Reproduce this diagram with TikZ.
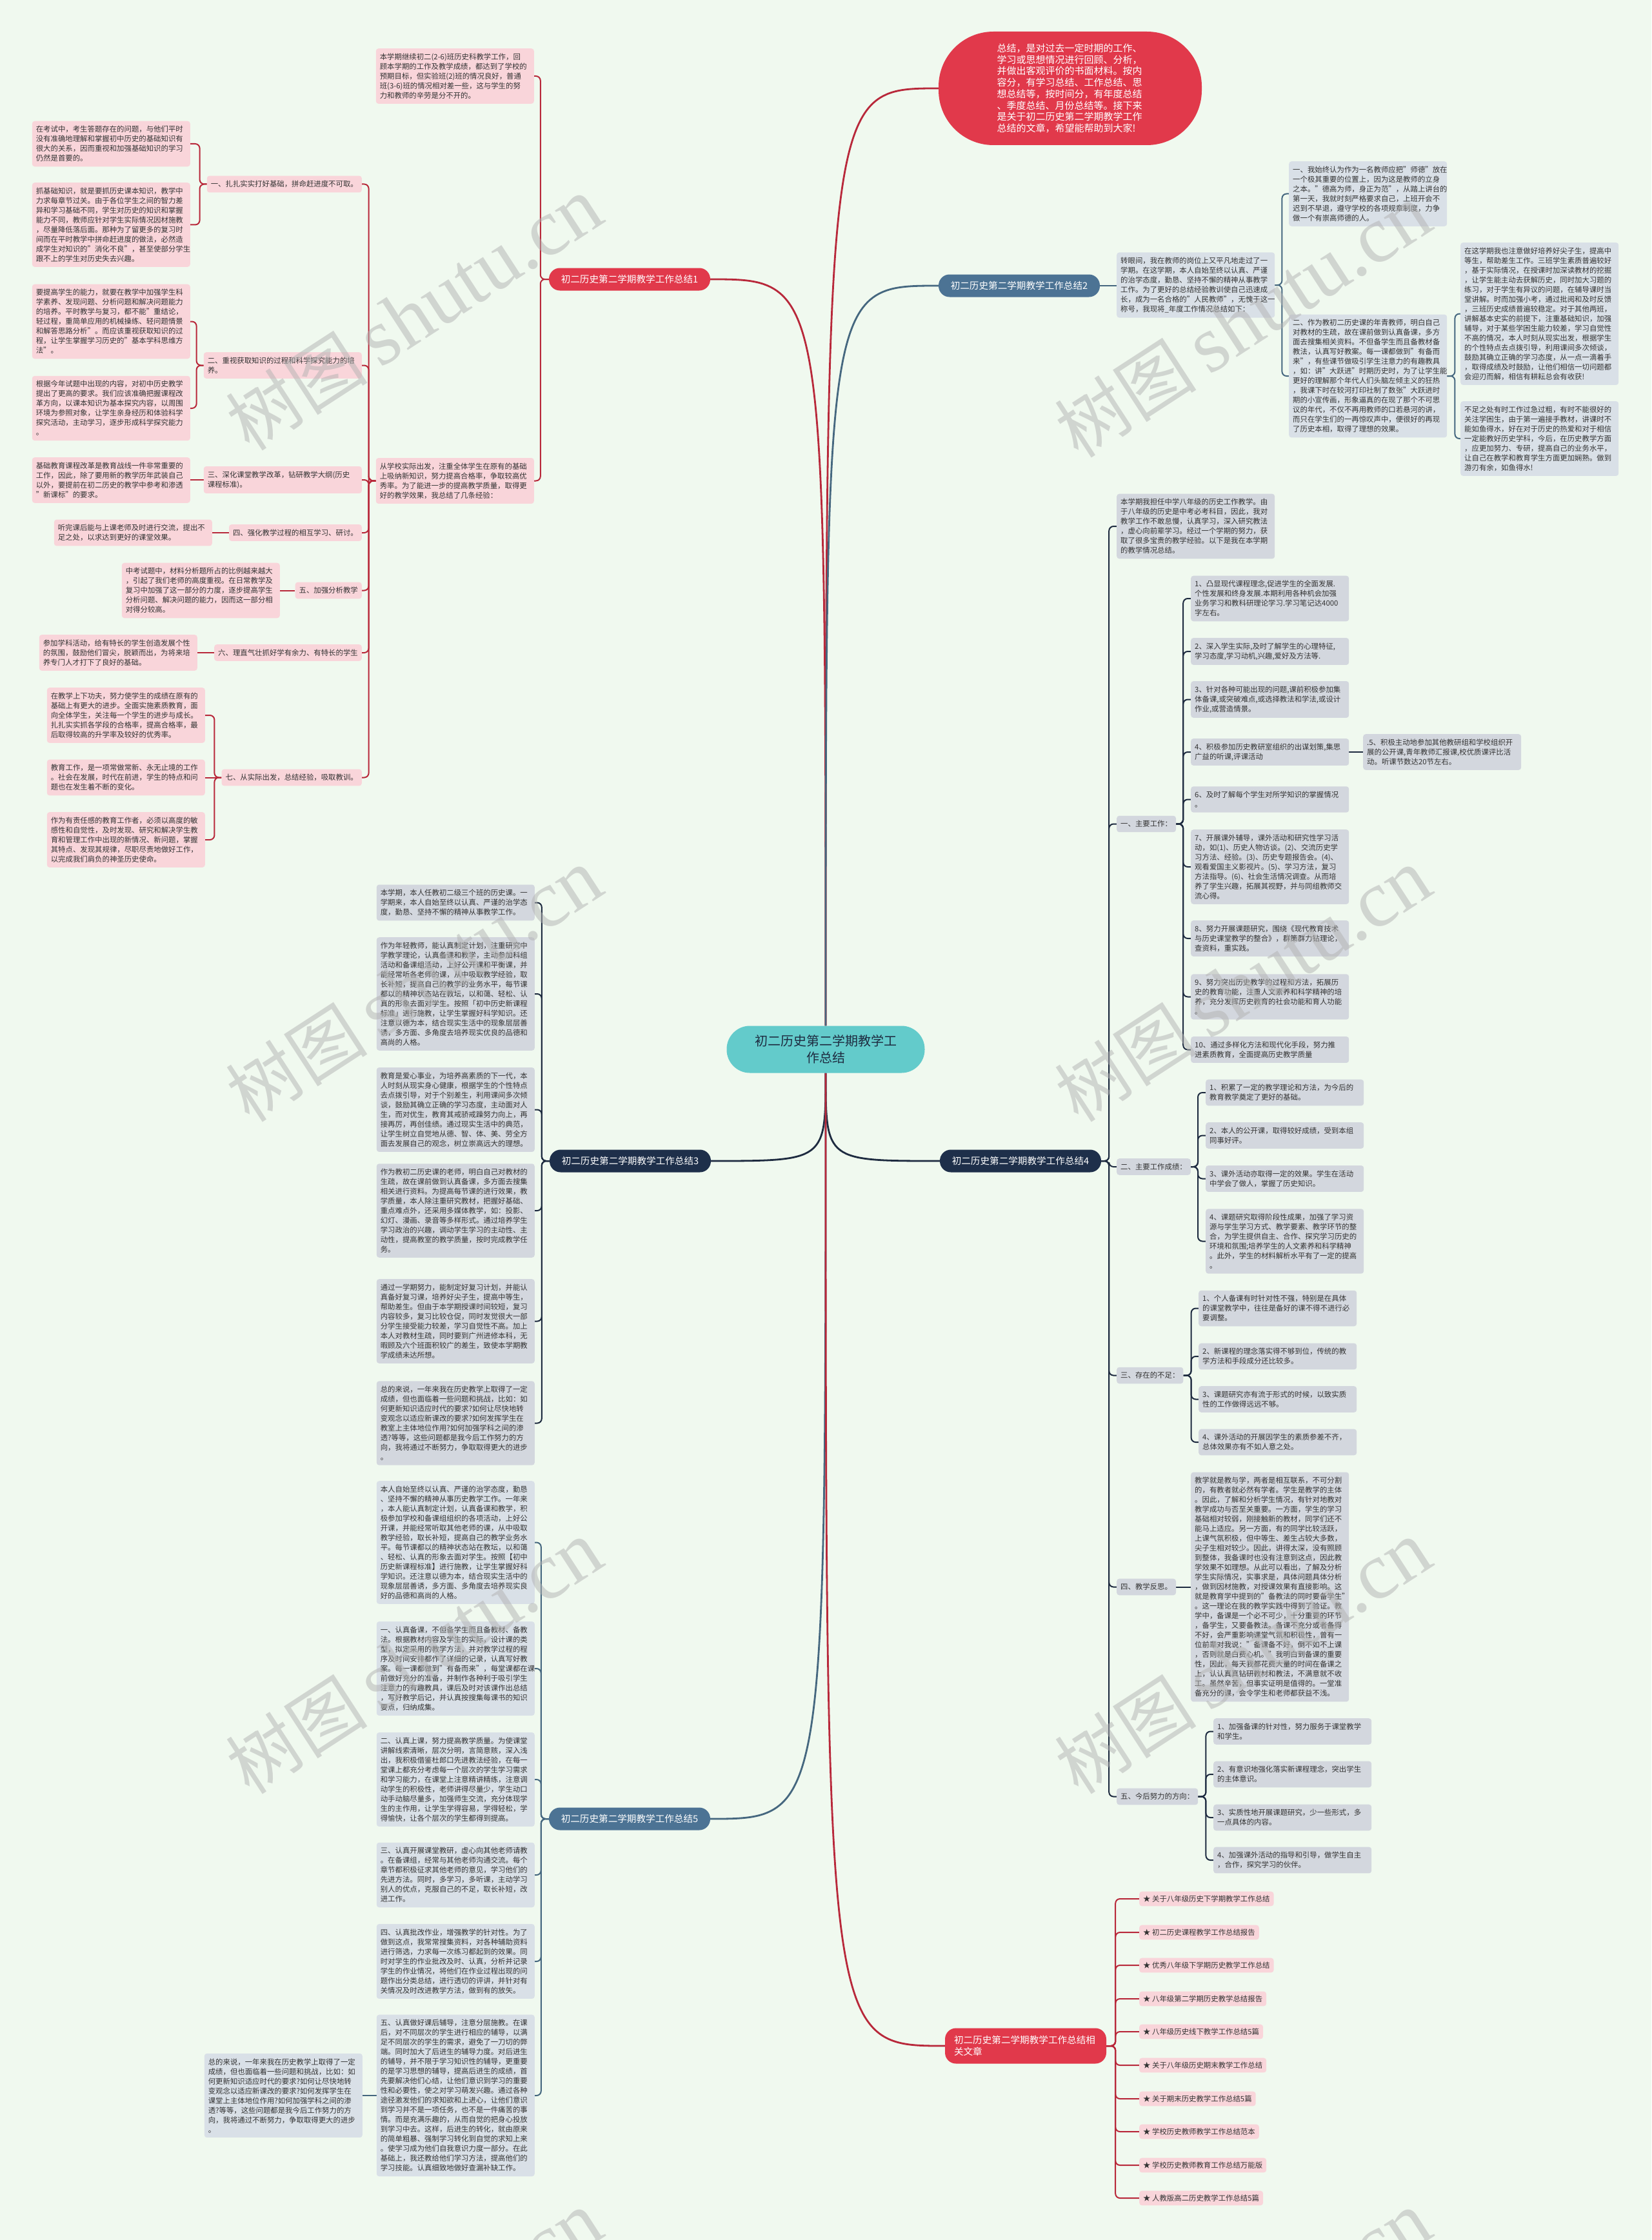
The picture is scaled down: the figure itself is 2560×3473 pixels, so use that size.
\documentclass[tikz,border=0pt]{standalone}
\usepackage{fontspec}
\setmainfont{Noto Sans CJK SC}
\newfontfamily\wmfont{Liberation Serif}
\pgfdeclarelayer{bg}\pgfdeclarelayer{edges}\pgfsetlayers{bg,edges,main}
\definecolor{bgc}{HTML}{F0F9EF}
\definecolor{pinkf}{HTML}{F9D5DA}
\definecolor{grayf}{HTML}{D9E0E7}
\definecolor{grayg}{HTML}{D3D7DE}
\definecolor{txt}{HTML}{333333}
\definecolor{redn}{HTML}{E1394B}
\definecolor{redl}{HTML}{B8283A}
\definecolor{slaten}{HTML}{4C7394}
\definecolor{slatel}{HTML}{45677F}
\definecolor{navyn}{HTML}{1E2F4A}
\definecolor{navyl}{HTML}{1E2B40}
\definecolor{tealn}{HTML}{63CBCB}
\newcommand{\fs}{\fontsize{11.4pt}{15pt}\selectfont}
\tikzset{
 tbox/.style={rounded corners=4pt, inner xsep=6pt, inner ysep=7.5pt, align=left, font=\fs, text=txt},
 pk/.style={tbox, fill=pinkf},
 gy/.style={tbox, fill=grayf},
 gn/.style={tbox, fill=grayg},
 wbox/.style={text width=233pt},
 branch/.style={minimum width=250pt, minimum height=35pt, rounded corners=17pt, font=\fontsize{14.6pt}{18pt}\selectfont, text=white, inner sep=4pt, align=center},
 lnr/.style={draw=redl, line width=2pt, rounded corners=7pt},
 lns/.style={draw=slatel, line width=2pt, rounded corners=7pt},
 lnn/.style={draw=navyl, line width=2pt, rounded corners=7pt},
 trunk/.style={line width=2.8pt},
 wmark/.style={rotate=33, text=black!30, opacity=0.5, inner sep=0pt},
}
\begin{document}
\begin{tikzpicture}[x=1pt,y=-1pt]
\begin{pgfonlayer}{bg}
\fill[bgc] (0,0) rectangle (2560,3473);
\end{pgfonlayer}
\path[use as bounding box] (0,0) rectangle (2560,3473);

% ---------- centre and top ----------
\node[fill=tealn, minimum width=307pt, minimum height=73pt, rounded corners=36pt, align=center, text=navyl, font=\fontsize{20pt}{26pt}\selectfont] (c) at (1280,1627) {初二历史第二学期教学工\\作总结};
\node[fill=redn, minimum width=408pt, minimum height=176pt, rounded corners=85pt, text=white, align=left, text width=227pt, font=\fontsize{15pt}{17.7pt}\selectfont] (top) at (1659,137) {总结，是对过去一定时期的工作、\\学习或思想情况进行回顾、分析，\\并做出客观评价的书面材料。按内\\容分，有学习总结、工作总结、思\\想总结等，按时间分，有年度总结\\、季度总结、月份总结等。接下来\\是关于初二历史第二学期教学工作\\总结的文章，希望能帮助到大家!};

% ---------- branch nodes ----------
\node[branch, fill=redn] (b1) at (976,433) {初二历史第二学期教学工作总结1};
\node[branch, fill=slaten] (b2) at (1580,443) {初二历史第二学期教学工作总结2};
\node[branch, fill=navyn] (b3) at (977,1800) {初二历史第二学期教学工作总结3};
\node[branch, fill=navyn] (b4) at (1582,1800) {初二历史第二学期教学工作总结4};
\node[branch, fill=slaten] (b5) at (976,2820) {初二历史第二学期教学工作总结5};
\node[branch, fill=redn, minimum height=55pt, align=left, text width=222pt] (b6) at (1590,3172) {初二历史第二学期教学工作总结相\\关文章};

% ---------- summary 1 ----------
\node[pk, wbox, anchor=east] (intro1) at (828,118) {本学期继续初二(2-6)班历史科教学工作，回\\顾本学期的工作及教学成绩，都达到了学校的\\预期目标，但实验班(2)班的情况良好，普通\\班(3-6)班的情况相对差一些，这与学生的努\\力和教师的辛劳是分不开的。};
\node[pk, wbox, anchor=east] (root1) at (828,745.5) {从学校实际出发，注重全体学生在原有的基础\\上吸纳新知识，努力提高合格率，争取较高优\\秀率。为了能进一步的提高教学质量，取得更\\好的教学效果，我总结了几条经验：};
\node[pk, anchor=east] (h1) at (561,285.5) {一、扎扎实实打好基础，拼命赶进度不可取。};
\node[pk, wbox, anchor=east] (t11) at (295,223) {在考试中，考生答题存在的问题，与他们平时\\没有准确地理解和掌握初中历史的基础知识有\\很大的关系，因而重视和加强基础知识的学习\\仍然是首要的。};
\node[pk, wbox, anchor=east] (t12) at (295,348.5) {抓基础知识，就是要抓历史课本知识，教学中\\力求每章节过关。由于各位学生之间的智力差\\异和学习基础不同，学生对历史的知识和掌握\\能力不同，教师应针对学生实际情况因材施教\\，尽量降低落后面。那种为了留更多的复习时\\间而在平时教学中拼命赶进度的做法，必然造\\成学生对知识的"消化不良"，甚至使部分学生\\跟不上的学生对历史失去兴趣。};
\node[pk, wbox, anchor=east] (h2) at (561,566.5) {二、重视获取知识的过程和科学探究能力的培\\养。};
\node[pk, wbox, anchor=east] (t21) at (295,498.5) {要提高学生的能力，就要在教学中加强学生科\\学素养、发现问题、分析问题和解决问题能力\\的培养。平时教学与复习，都不能"重结论，\\轻过程，重简单应用的机械操练、轻问题情景\\和解答思路分析"。而应该重视获取知识的过\\程，让学生掌握学习历史的"基本学科思维方\\法"。};
\node[pk, wbox, anchor=east] (t22) at (295,633) {根据今年试题中出现的内容，对初中历史教学\\提出了更高的要求。我们应该准确把握课程改\\革方向，以课本知识为基本探究内容，以周围\\环境为参照对象，让学生亲身经历和体验科学\\探究活动，主动学习，逐步形成科学探究能力\\。};
\node[pk, wbox, anchor=east] (h3) at (561,744) {三、深化课堂教学改革，钻研教学大纲(历史\\课程标准)。};
\node[pk, wbox, anchor=east] (t31) at (295,744.5) {基础教育课程改革是教育战线一件非常重要的\\工作，因此，除了要用新的教学历年武装自己\\以外，要提前在初二历史的教学中参考和渗透\\"新课标"的要求。};
\node[pk, anchor=east] (h4) at (561,826) {四、强化教学过程的相互学习、研讨。};
\node[pk, wbox, anchor=east] (t41) at (329,826) {听完课后能与上课老师及时进行交流，提出不\\足之处，以求达到更好的课堂效果。};
\node[pk, anchor=east] (h5) at (561,915.5) {五、加强分析教学};
\node[pk, wbox, anchor=east] (t51) at (434,915.5) {中考试题中，材料分析题所占的比例越来越大\\，引起了我们老师的高度重视。在日常教学及\\复习中加强了这一部分的力度，逐步提高学生\\分析问题、解决问题的能力，因而这一部分相\\对得分较高。};
\node[pk, anchor=east] (h6) at (561,1012) {六、理直气壮抓好学有余力、有特长的学生};
\node[pk, wbox, anchor=east] (t61) at (306,1012) {参加学科活动，给有特长的学生创造发展个性\\的氛围，鼓励他们冒尖，脱颖而出，为将来培\\养专门人才打下了良好的基础。};
\node[pk, anchor=east] (h7) at (561,1205.5) {七、从实际出发，总结经验，吸取教训。};
\node[pk, wbox, anchor=east] (t71) at (318,1109) {在教学上下功夫，努力使学生的成绩在原有的\\基础上有更大的进步。全面实施素质教育，面\\向全体学生，关注每一个学生的进步与成长。\\扎扎实实抓各学段的合格率，提高合格率，最\\后取得较高的升学率及较好的优秀率。};
\node[pk, wbox, anchor=east] (t72) at (318,1205.5) {教育工作，是一项常做常新、永无止境的工作\\。社会在发展，时代在前进，学生的特点和问\\题也在发生着不断的变化。};
\node[pk, wbox, anchor=east] (t73) at (318,1302) {作为有责任感的教育工作者，必须以高度的敏\\感性和自觉性，及时发现、研究和解决学生教\\育和管理工作中出现的新情况、新问题，掌握\\其特点、发现其规律，尽职尽责地做好工作，\\以完成我们肩负的神圣历史使命。};

% ---------- summary 2 ----------
\node[gy, wbox, anchor=west] (s2root) at (1731,442) {转眼间，我在教师的岗位上又平凡地走过了一\\学期。在这学期，本人自始至终以认真、严谨\\的治学态度，勤恳、坚持不懈的精神从事教学\\工作。为了更好的总结经验教训使自己迅速成\\长，成为一名合格的"人民教师"，无愧于这一\\称号，我现将\_年度工作情况总结如下：};
\node[gy, wbox, anchor=west] (s2a) at (1998,300.5) {一、我始终认为作为一名教师应把"师德"放在\\一个极其重要的位置上，因为这是教师的立身\\之本。"德高为师，身正为范"，从踏上讲台的\\第一天，我就时刻严格要求自己，上班开会不\\迟到不早退，遵守学校的各项规章制度，力争\\做一个有崇高师德的人。};
\node[gy, wbox, anchor=west] (s2b) at (1998,583) {二、作为教初二历史课的年青教师，明白自己\\对教材的生疏，故在课前做到认真备课，多方\\面去搜集相关资料。不但备学生而且备教材备\\教法，认真写好教案。每一课都做到"有备而\\来"，有些课节做吸引学生注意力的有趣教具\\，如：讲"大跃进"时期历史时，为了让学生能\\更好的理解那个年代人们头脑左倾主义的狂热\\，我课下时在较河打印社制了数张"大跃进时\\期的小宣传画，形象逼真的在现了那个不可思\\议的年代，不仅不再用教师的口若悬河的讲，\\而只在学生们的一再惊叹声中，便很好的再现\\了历史本相，取得了理想的效果。};
\node[gy, wbox, anchor=west] (s2c) at (2264,486.5) {在这学期我也注意做好培养好尖子生，提高中\\等生，帮助差生工作。三班学生素质普遍较好\\，基于实际情况，在授课时加深读教材的挖掘\\，让学生能主动去获解历史，同时加大习题的\\练习，对于学生有异议的问题，在辅导课时当\\堂讲解。时而加强小考，通过批阅和及时反馈\\，三班历史成绩普遍较稳定。对于其他两班，\\讲解基本史实的前提下，注重基础知识，加强\\辅导，对于某些学困生能力较差，学习自觉性\\不高的情况，本人时刻从现实出发，根据学生\\的个性特点去点拨引导，利用课间多次倾谈，\\鼓励其确立正确的学习态度，从一点一滴着手\\，取得成绩及时鼓励，让他们相信一切问题都\\会迎刃而解，相信有耕耘总会有收获!};
\node[gy, wbox, anchor=west] (s2d) at (2264,680) {不足之处有时工作过急过粗，有时不能很好的\\关注学困生，由于第一遍接手教材，讲课时不\\能如鱼得水，好在对于历史的热爱和对于相信\\一定能教好历史学科，今后，在历史教学方面\\，应更加努力、专研，提高自己的业务水平，\\让自己在教学和教育学生方面更加娴熟。做到\\游刃有余，如鱼得水!};

% ---------- summary 3 ----------
\node[gn, wbox, anchor=east] (s3a) at (829,1399.5) {本学期，本人任教初二级三个班的历史课。一\\学期来，本人自始至终以认真、严谨的治学态\\度，勤恳、坚持不懈的精神从事教学工作。};
\node[gn, wbox, anchor=east] (s3b) at (829,1541) {作为年轻教师，能认真制定计划，注重研究中\\学教学理论，认真备课和教学，主动参加科组\\活动和备课组活动，上好公开课和平衡课，并\\能经常听各老师的课，从中吸取教学经验，取\\长补短，提高自己的教学的业务水平，每节课\\都以的精神状态站在教坛，以和蔼、轻松、认\\真的形象去面对学生。按照「初中历史新课程\\标准」进行施教，让学生掌握好科学知识。还\\注意以德为本，结合现实生活中的现象层层善\\诱，多方面、多角度去培养现实优良的品德和\\高尚的人格。};
\node[gn, wbox, anchor=east] (s3c) at (829,1720.5) {教育是爱心事业，为培养高素质的下一代，本\\人时刻从现实身心健康，根据学生的个性特点\\去点拨引导，对于个别差生，利用课间多次倾\\谈，鼓励其确立正确的学习态度，主动面对人\\生，而对优生，教育其戒骄戒躁努力向上，再\\接再厉，再创佳绩。通过现实生活中的典范，\\让学生树立自觉地从德、智、体、美、劳全方\\面去发展自己的观念，树立崇高远大的理想。};
\node[gn, wbox, anchor=east] (s3d) at (829,1877) {作为教初二历史课的老师，明白自己对教材的\\生疏，故在课前做到认真备课，多方面去搜集\\相关进行资料。为提高每节课的进行效果，教\\学质量，本人除注重研究教材，把握好基础、\\重点难点外，还采用多媒体教学，如：投影、\\幻灯、漫画、录音等多样形式。通过培养学生\\学习政治的兴趣，调动学生学习的主动性、主\\动性，提高教室的教学质量，按时完成教学任\\务。};
\node[gn, wbox, anchor=east] (s3e) at (829,2048.5) {通过一学期努力，能制定好复习计划，并能认\\真备好复习课，培养好尖子生，提高中等生，\\帮助差生。但由于本学期授课时间较短，复习\\内容较多，复习比较仓促，同时发觉很大一部\\分学生接受能力较差，学习自觉性不高。加上\\本人对教材生疏，同时要到广州进修本科，无\\暇顾及六个班面积较广的差生，致使本学期教\\学成绩未达所想。};
\node[gn, wbox, anchor=east] (s3f) at (829,2206.5) {总的来说，一年来我在历史教学上取得了一定\\成绩，但也面临着一些问题和挑战，比如：如\\何更新知识适应时代的要求?如何让尽快地转\\变观念以适应新课改的要求?如何发挥学生在\\教室上主体地位作用?如何加强学科之间的渗\\透?等等，这些问题都是我今后工作努力的方\\向，我将通过不断努力，争取取得更大的进步\\。};

% ---------- summary 5 ----------
\node[gy, wbox, anchor=east] (s5a) at (829,2391.5) {本人自始至终以认真、严谨的治学态度，勤恳\\、坚持不懈的精神从事历史教学工作。一年来\\，本人能认真制定计划，认真备课和教学，积\\极参加学校和备课组组织的各项活动，上好公\\开课，并能经常听取其他老师的课，从中吸取\\教学经验，取长补短，提高自己的教学业务水\\平。每节课都以的精神状态站在教坛，以和蔼\\、轻松、认真的形象去面对学生。按照【初中\\历史新课程标准】进行施教，让学生掌握好科\\学知识。还注意以德为本，结合现实生活中的\\现象层层善诱，多方面、多角度去培养现实良\\好的品德和高尚的人格。};
\node[gy, wbox, anchor=east] (s5b) at (829,2587) {一、认真备课，不但备学生而且备教材、备教\\法。根据教材内容及学生的实际，设计课的类\\型，拟定采用的教学方法，并对教学过程的程\\序及时间安排都作了详细的记录，认真写好教\\案。每一课都做到"有备而来"，每堂课都在课\\前做好充分的准备，并制作各种利于吸引学生\\注意力的有趣教具，课后及时对该课作出总结\\，写好教学后记，并认真按搜集每课书的知识\\要点，归纳成集。};
\node[gy, wbox, anchor=east] (s5c) at (829,2759) {二、认真上课，努力提高教学质量。为使课堂\\讲解线索清晰，层次分明，言简意赅，深入浅\\出，我积极借鉴杜郎口先进教法经验，在每一\\堂课上都充分考虑每一个层次的学生学习需求\\和学习能力，在课堂上注意精讲精练，注意调\\动学生的积极性，老师讲得尽量少，学生动口\\动手动脑尽量多，加强师生交流，充分体现学\\生的主作用，让学生学得容易，学得轻松，学\\得愉快，让各个层次的学生都得到提高。};
\node[gy, wbox, anchor=east] (s5d) at (829,2907) {三、认真开展课堂教研，虚心向其他老师请教\\。在备课组，经常与其他老师沟通交流。每个\\章节都积极征求其他老师的意见，学习他们的\\先进方法。同时，多学习，多听课，主动学习\\别人的优点，克服自己的不足，取长补短，改\\进工作。};
\node[gy, wbox, anchor=east] (s5e) at (829,3041) {四、认真批改作业，增强教学的针对性。为了\\做到这点，我常常搜集资料，对各种辅助资料\\进行筛选，力求每一次练习都起到的效果。同\\时对学生的作业批改及时、认真，分析并记录\\学生的作业情况，将他们在作业过程出现的问\\题作出分类总结，进行透切的评讲，并针对有\\关情况及时改进教学方法，做到有的放矢。};
\node[gy, wbox, anchor=east] (s5f) at (829,3249) {五、认真做好课后辅导，注意分层施教。在课\\后，对不同层次的学生进行相应的辅导，以满\\足不同层次的学生的需求，避免了一刀切的弊\\端。同时加大了后进生的辅导力度。对后进生\\的辅导，并不限于学习知识性的辅导，更重要\\的是学习思想的辅导，提高后进生的成绩，首\\先要解决他们心结，让他们意识到学习的重要\\性和必要性，使之对学习萌发兴趣。通过各种\\途径激发他们的求知欲和上进心，让他们意识\\到学习并不是一项任务，也不是一件痛苦的事\\情。而是充满乐趣的，从而自觉的把身心投放\\到学习中去。这样，后进生的转化，就由原来\\的简单粗暴、强制学习转化到自觉的求知上来\\。使学习成为他们自我意识力度一部分。在此\\基础上，我还教给他们学习方法，提高他们的\\学习技能。认真细致地做好查漏补缺工作。};
\node[gy, wbox, anchor=east] (s5g) at (562,3249) {总的来说，一年来我在历史教学上取得了一定\\成绩，但也面临着一些问题和挑战，比如：如\\何更新知识适应时代的要求?如何让尽快地转\\变观念以适应新课改的要求?如何发挥学生在\\课堂上主体地位作用?如何加强学科之间的渗\\透?等等，这些问题都是我今后工作努力的方\\向，我将通过不断努力，争取取得更大的进步\\。};

% ---------- summary 4 ----------
\node[gn, wbox, anchor=west] (s4a) at (1731,816) {本学期我担任中学八年级的历史工作教学。由\\于八年级的历史是中考必考科目，因此，我对\\教学工作不敢怠慢，认真学习，深入研究教法\\，虚心向前辈学习。经过一个学期的努力，获\\取了很多宝贵的教学经验。以下是我在本学期\\的教学情况总结。};
\node[gn, anchor=west] (g1) at (1731,1277.5) {一、主要工作：};
\node[gn, wbox, anchor=west] (i1) at (1846,928) {1、凸显现代课程理念,促进学生的全面发展.\\个性发展和终身发展.本期利用各种机会加强\\业务学习和教科研理论学习.学习笔记达4000\\字左右。};
\node[gn, wbox, anchor=west] (i2) at (1846,1010) {2、深入学生实际,及时了解学生的心理特征,\\学习态度,学习动机,兴趣,爱好及方法等.};
\node[gn, wbox, anchor=west] (i3) at (1846,1084.5) {3、针对各种可能出现的问题,课前积极参加集\\体备课,或突破难点,或选择教法和学法,或设计\\作业,或营造情景。};
\node[gn, wbox, anchor=west] (i4) at (1846,1166) {4、积极参加历史教研室组织的出谋划策,集思\\广益的听课,评课活动};
\node[gn, wbox, anchor=west] (i5) at (2113,1166) {.5、积极主动地参加其他教研组和学校组织开\\展的公开课,青年教师汇报课,校优质课评比活\\动。听课节数达20节左右。};
\node[gn, wbox, anchor=west] (i6) at (1846,1239.5) {6、及时了解每个学生对所学知识的掌握情况\\。};
\node[gn, wbox, anchor=west] (i7) at (1846,1344) {7、开展课外辅导，课外活动和研究性学习活\\动，如(1)、历史人物访谈。(2)、交流历史学\\习方法、经验。(3)、历史专题报告会。(4)、\\观看爱国主义影视片。(5)、学习方法，复习\\方法指导。(6)、社会生活情况调查。从而培\\养了学生兴趣，拓展其视野，并与同组教师交\\流心得。};
\node[gn, wbox, anchor=west] (i8) at (1846,1455) {8、努力开展课题研究，围绕《现代教育技术\\与历史课堂教学的整合》，群策群力钻理论，\\查资料，重实践。};
\node[gn, wbox, anchor=west] (i9) at (1846,1545.5) {9、努力突出历史教学的过程和方法，拓展历\\史的教育功能，注重人文素养和科学精神的培\\养，充分发挥历史教育的社会功能和育人功能\\。};
\node[gn, wbox, anchor=west] (i10) at (1846,1627.5) {10、通过多样化方法和现代化手段，努力推\\进素质教育，全面提高历史教学质量};
\node[gn, anchor=west] (g2) at (1731,1809) {二、主要工作成绩：};
\node[gn, wbox, anchor=west] (j1) at (1869,1694) {1、积累了一定的教学理论和方法，为今后的\\教育教学奠定了更好的基础。};
\node[gn, wbox, anchor=west] (j2) at (1869,1760.5) {2、本人的公开课，取得较好成绩，受到本组\\同事好评。};
\node[gn, wbox, anchor=west] (j3) at (1869,1827.5) {3、课外活动亦取得一定的效果。学生在活动\\中学会了做人，掌握了历史知识。};
\node[gn, wbox, anchor=west] (j4) at (1869,1924.5) {4、课题研究取得阶段性成果，加强了学习资\\源与学生学习方式、教学要素、教学环节的整\\合，为学生提供自主、合作、探究学习历史的\\环境和氛围;培养学生的人文素养和科学精神\\。此外，学生的材料解析水平有了一定的提高\\。};
\node[gn, anchor=west] (g3) at (1731,2132.5) {三、存在的不足：};
\node[gn, wbox, anchor=west] (k1) at (1858,2028.5) {1、个人备课有时针对性不强，特别是在具体\\的课堂教学中，往往是备好的课不得不进行必\\要调整。};
\node[gn, wbox, anchor=west] (k2) at (1858,2103) {2、新课程的理念落实得不够到位，传统的教\\学方法和手段成分还比较多。};
\node[gn, wbox, anchor=west] (k3) at (1858,2169.5) {3、课题研究亦有流于形式的时候，以致实质\\性的工作做得远远不够。};
\node[gn, wbox, anchor=west] (k4) at (1858,2236) {4、课外活动的开展因学生的素质参差不齐，\\总体效果亦有不如人意之处。};
\node[gn, anchor=west] (g4) at (1731,2460.5) {四、教学反思。};
\node[gn, wbox, anchor=west] (r1) at (1846,2460.5) {教学就是教与学，两者是相互联系，不可分割\\的，有教者就必然有学者。学生是教学的主体\\。因此，了解和分析学生情况，有针对地教对\\教学成功与否至关重要。一方面，学生的学习\\基础相对较弱，刚接触新的教材，同学们还不\\能马上适应。另一方面，有的同学比较活跃，\\上课气氛积极，但中等生、差生占较大多数，\\尖子生相对较少。因此，讲得太深，没有照顾\\到整体，我备课时也没有注意到这点，因此教\\学效果不如理想。从此可以看出，了解及分析\\学生实际情况，实事求是，具体问题具体分析\\，做到因材施教，对授课效果有直接影响。这\\就是教育学中提到的"备教法的同时要备学生"\\。这一理论在我的教学实践中得到了验证。教\\学中，备课是一个必不可少，十分重要的环节\\，备学生，又要备教法。备课不充分或者备得\\不好，会严重影响课堂气氛和积极性，曾有一\\位前辈对我说："备课备不好，倒不如不上课\\，否则就是白费心机。"我明白到备课的重要\\性，因此，每天我都花费大量的时间在备课之\\上，认认真真钻研教材和教法，不满意就不收\\工。虽然辛苦，但事实证明是值得的。一堂准\\备充分的课，会令学生和老师都获益不浅。};
\node[gn, anchor=west] (g5) at (1731,2785.5) {五、今后努力的方向：};
\node[gn, wbox, anchor=west] (m1) at (1881,2684.5) {1、加强备课的针对性，努力服务于课堂教学\\和学生。};
\node[gn, wbox, anchor=west] (m2) at (1881,2751) {2、有意识地强化落实新课程理念，突出学生\\的主体意识。};
\node[gn, wbox, anchor=west] (m3) at (1881,2818) {3、实质性地开展课题研究，少一些形式，多\\一点具体的内容。};
\node[gn, wbox, anchor=west] (m4) at (1881,2884) {4、加强课外活动的指导和引导，做学生自主\\，合作，探究学习的伙伴。};

% ---------- related articles ----------
\node[pk, anchor=west, inner ysep=6pt] (a1) at (1766,2944) {★ 关于八年级历史下学期教学工作总结};
\node[pk, anchor=west, inner ysep=6pt] (a2) at (1766,2996) {★ 初二历史课程教学工作总结报告};
\node[pk, anchor=west, inner ysep=6pt] (a3) at (1766,3047) {★ 优秀八年级下学期历史教学工作总结};
\node[pk, anchor=west, inner ysep=6pt] (a4) at (1766,3099) {★ 八年级第二学期历史教学总结报告};
\node[pk, anchor=west, inner ysep=6pt] (a5) at (1766,3150) {★ 八年级历史线下教学工作总结5篇};
\node[pk, anchor=west, inner ysep=6pt] (a6) at (1766,3202) {★ 关于八年级历史期末教学工作总结};
\node[pk, anchor=west, inner ysep=6pt] (a7) at (1766,3254) {★ 关于期末历史教学工作总结5篇};
\node[pk, anchor=west, inner ysep=6pt] (a8) at (1766,3305) {★ 学校历史教师教学工作总结范本};
\node[pk, anchor=west, inner ysep=6pt] (a9) at (1766,3357) {★ 学校历史教师教育工作总结万能版};
\node[pk, anchor=west, inner ysep=6pt] (a10) at (1766,3408) {★ 人教版高二历史教学工作总结5篇};

% ---------- connectors ----------
\begin{pgfonlayer}{edges}
\draw[redl, trunk] (c.north) .. controls (1280,137) .. (top.west);
\draw[redl, trunk] (c.north) .. controls (1280,433) .. (b1.east);
\draw[slatel, trunk] (c.north) .. controls (1280,443) .. (b2.west);
\draw[navyl, trunk] (c.south) .. controls (1280,1800) .. (b3.east);
\draw[navyl, trunk] (c.south) .. controls (1280,1800) .. (b4.west);
\draw[slatel, trunk] (c.south) .. controls (1280,2820) .. (b5.east);
\draw[redl, trunk] (c.south) .. controls (1280,3172) .. (b6.west);

% summary 1
\draw[lnr] (b1.west) -- ++(-13,0) |- (intro1.east);
\draw[lnr] (b1.west) -- ++(-13,0) |- (root1.east);
\foreach \h in {h1,h2,h3,h4,h5,h6,h7} \draw[lnr] (root1.west) -- ++(-11,0) |- (\h.east);
\draw[lnr] (h1.west) -- ++(-11,0) |- (t11.east);
\draw[lnr] (h1.west) -- ++(-11,0) |- (t12.east);
\draw[lnr] (h2.west) -- ++(-11,0) |- (t21.east);
\draw[lnr] (h2.west) -- ++(-11,0) |- (t22.east);
\draw[lnr] (h3.west) -- (h3.west -| t31.east);
\draw[lnr] (h4.west) -- (h4.west -| t41.east);
\draw[lnr] (h5.west) -- (h5.west -| t51.east);
\draw[lnr] (h6.west) -- (h6.west -| t61.east);
\draw[lnr] (h7.west) -- ++(-11,0) |- (t71.east);
\draw[lnr] (h7.west) -- (h7.west -| t72.east);
\draw[lnr] (h7.west) -- ++(-11,0) |- (t73.east);

% summary 2
\draw[lns] (b2.east) -- (b2.east -| s2root.west);
\draw[lns] (s2root.east) -- ++(11,0) |- (s2a.west);
\draw[lns] (s2root.east) -- ++(11,0) |- (s2b.west);
\draw[lns] (s2b.east) -- ++(12,0) |- (s2c.west);
\draw[lns] (s2b.east) -- ++(12,0) |- (s2d.west);

% summary 3
\foreach \n in {s3a,s3b,s3c,s3d,s3e,s3f} \draw[lnn] (b3.west) -- ++(-12,0) |- (\n.east);

% summary 5
\foreach \n in {s5a,s5b,s5c,s5d,s5e,s5f} \draw[lns] (b5.west) -- ++(-12,0) |- (\n.east);
\draw[lns] (s5f.west) -- (s5f.west -| s5g.east);

% summary 4
\foreach \n in {s4a,g1,g2,g3,g4,g5} \draw[lnn] (b4.east) -- ++(12,0) |- (\n.west);
\foreach \n in {i1,i2,i3,i4,i6,i7,i8,i9,i10} \draw[lnn] (g1.east) -- ++(11,0) |- (\n.west);
\draw[lnn] (i4.east) -- (i4.east -| i5.west);
\foreach \n in {j1,j2,j3,j4} \draw[lnn] (g2.east) -- ++(11,0) |- (\n.west);
\foreach \n in {k1,k2,k3,k4} \draw[lnn] (g3.east) -- ++(12,0) |- (\n.west);
\draw[lnn] (g4.east) -- (g4.east -| r1.west);
\foreach \n in {m1,m2,m3,m4} \draw[lnn] (g5.east) -- ++(12,0) |- (\n.west);

% related
\foreach \n in {a1,a2,a3,a4,a5,a6,a7,a8,a9,a10} \draw[lnr] (b6.east) -- ++(14,0) |- (\n.west);
\end{pgfonlayer}

% ---------- watermarks ----------
\begin{scope}
\clip (0,0) rectangle (2560,3473);
\foreach \wx/\wy in {642/487, 1927/498, 642/1528, 1927/1528, 642/2570, 1927/2570, 642/3610, 1927/3610}
  \node[wmark] at (\wx,\wy) {\fontsize{110pt}{110pt}\selectfont 树图\hspace{20pt}{\wmfont\fontsize{125pt}{125pt}\selectfont shutu.cn}};
\end{scope}
\end{tikzpicture}
\end{document}
